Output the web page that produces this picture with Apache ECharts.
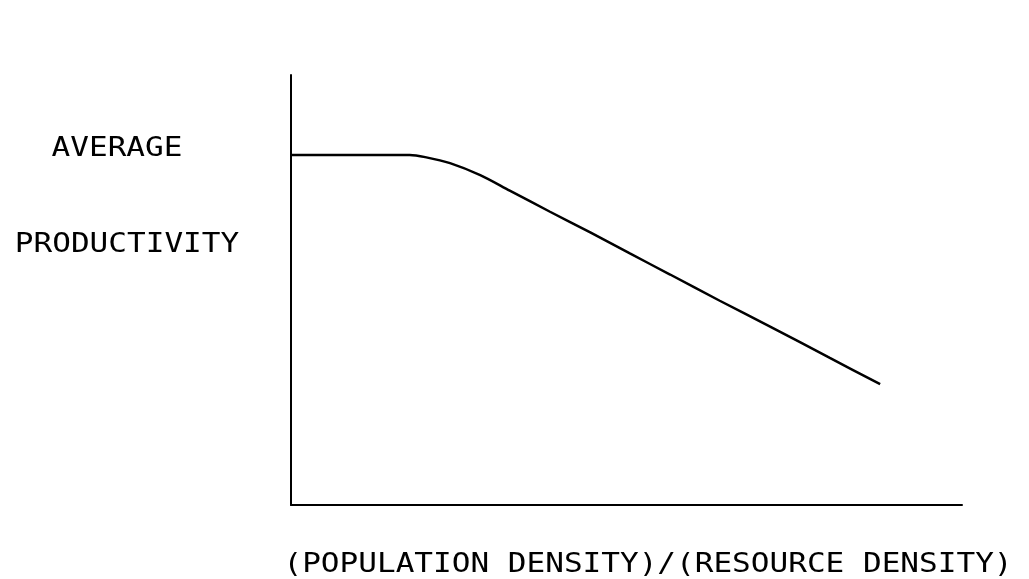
<!DOCTYPE html>
<html>
<head>
<meta charset="utf-8">
<script src="https://cdn.jsdelivr.net/npm/echarts@6/dist/echarts.min.js"></script>
<style>
  html, body { margin: 0; padding: 0; background: #fff; }
  #main { width: 1029px; height: 579px; }
</style>
</head>
<body>
<div id="main"></div>
<script>
// density ratio (x) vs average productivity (y), 0-100 scale
var density = [0, 17.7, 20.0, 23.7, 28.2, 32.6, 38.6, 44.6, 50.5, 56.5, 63.9, 71.4, 80.3, 87.8];
var productivity = [81.4, 81.4, 80.9, 79.5, 76.7, 73.1, 68.2, 63.4, 58.5, 53.6, 47.5, 41.5, 34.2, 28.1];

var yLabels = ['AVERAGE', 'PRODUCTIVITY'];
var xLabel = '(POPULATION DENSITY)/(RESOURCE DENSITY)';

var points = density.map(function (x, i) { return [x, productivity[i]]; });

var myChart = echarts.init(document.getElementById('main'));

var font = '"DejaVu Sans Mono", monospace';
function label(txt, x, y) {
    return {
        type: 'text',
        x: x,
        y: y,
        scaleX: 1.15,
        style: {
            text: txt,
            x: 0,
            y: 0,
            textAlign: 'center',
            textVerticalAlign: 'middle',
            font: '27px ' + font,
            fill: '#000'
        }
    };
}

var option = {
    backgroundColor: '#fff',
    animation: false,
    grid: { left: 291, right: 67, top: 75, bottom: 74 },
    xAxis: {
        type: 'value',
        min: 0,
        max: 100,
        axisLine: { show: true, lineStyle: { color: '#000', width: 2 } },
        axisTick: { show: false },
        axisLabel: { show: false },
        splitLine: { show: false }
    },
    yAxis: {
        type: 'value',
        min: 0,
        max: 100,
        axisLine: { show: true, lineStyle: { color: '#000', width: 2 } },
        axisTick: { show: false },
        axisLabel: { show: false },
        splitLine: { show: false }
    },
    graphic: [
        label(yLabels[0], 117, 149),
        label(yLabels[1], 127, 245),
        label(xLabel, 648, 565)
    ],
    series: [{
        type: 'line',
        data: points,
        symbol: 'none',
        smooth: 0.3,
        lineStyle: { color: '#000', width: 2.5 }
    }]
};

myChart.setOption(option);
</script>
</body>
</html>
